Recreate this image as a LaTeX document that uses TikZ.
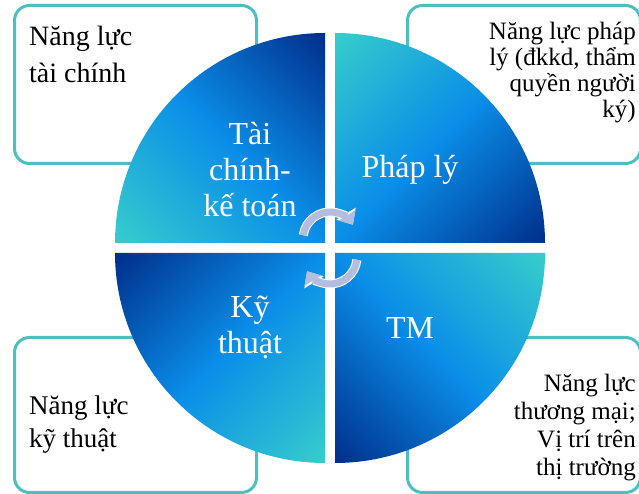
\documentclass[tikz,border=0pt]{standalone}
\usepackage{fontspec}
\setmainfont{Liberation Serif}
\usetikzlibrary{arrows.meta}
\definecolor{khung}{HTML}{4CC0C0}
\definecolor{xanhdam}{HTML}{00308C}
\definecolor{xanhsang}{HTML}{0A8EE8}
\definecolor{xanhngoc}{HTML}{36CCCC}
\definecolor{muiten}{HTML}{B3BDE0}
\pgfdeclareverticalshading{gocphan}{100bp}{color(0bp)=(xanhngoc); color(15bp)=(xanhngoc);
  color(50bp)=(xanhsang); color(85bp)=(xanhdam); color(100bp)=(xanhdam)}
\begin{document}
\begin{tikzpicture}[x=1pt,y=1pt,
  hop/.style={draw=khung,line width=3pt,rounded corners=15pt,fill=white,anchor=north west},
  chu/.style={inner sep=0pt,text=black},
  nhan/.style={inner sep=0pt,text=white,align=center,font=\fontsize{32}{36}\selectfont},
  mau/.style={shading=gocphan}]
\useasboundingbox (0,0) rectangle (639,494);
% cac khung ben ngoai
\node[hop,minimum width=242pt,minimum height=158pt] (hopTC) at (13,490) {};
\node[hop,minimum width=233pt,minimum height=158pt] (hopPL) at (406,490) {};
\node[hop,minimum width=242pt,minimum height=155pt] (hopKT) at (13,158) {};
\node[hop,minimum width=233pt,minimum height=155pt] (hopTM) at (406,158) {};
\node[chu,anchor=north west,align=left,font=\fontsize{28}{37}\selectfont] (nlTC)
  at ([shift={(16,-22)}]hopTC.north west) {Năng lực\\tài chính};
\node[chu,anchor=north east,align=right,font=\fontsize{25}{26}\selectfont] (nlPL)
  at ([shift={(-6,-18)}]hopPL.north east) {Năng lực pháp\\lý (đkkd, thẩm\\quyền người\\ký)};
\node[chu,anchor=north west,align=left,font=\fontsize{27}{33}\selectfont] (nlKT)
  at ([shift={(16,-60)}]hopKT.north west) {Năng lực\\kỹ thuật};
\node[chu,anchor=north east,align=right,font=\fontsize{25}{28}\selectfont] (nlTM)
  at ([shift={(-6,-38)}]hopTM.north east) {Năng lực\\thương mại;\\Vị trí trên\\thị trường};
% bon phan hinh tron
\shade[mau,shading angle=-45] (325,251) -- (115,251) arc[start angle=180,end angle=90,radius=210] -- cycle;
\shade[mau,shading angle=-135] (335,251) -- (335,461) arc[start angle=90,end angle=0,radius=210] -- cycle;
\shade[mau,shading angle=135] (335,241) -- (545,241) arc[start angle=0,end angle=-90,radius=210] -- cycle;
\shade[mau,shading angle=45] (325,241) -- (325,31) arc[start angle=-90,end angle=-180,radius=210] -- cycle;
\node[nhan] (taichinh) at (250,324) {Tài\\chính-\\kế toán};
\node[nhan] (phaply) at (410,324) {Pháp lý};
\node[nhan] (kythuat) at (250,167) {Kỹ\\thuật};
\node[nhan] (thuongmai) at (410,166) {TM};
% mui ten vong
\draw[white,line width=9pt,-{Triangle[width=22pt,length=13pt]}] (330,255) ++(172:27) arc[start angle=172,end angle=32,radius=27];
\draw[muiten,line width=7pt,-{Triangle[width=19pt,length=11pt]}] (330,255) ++(172:27) arc[start angle=172,end angle=32,radius=27];
\draw[white,line width=9pt,-{Triangle[width=22pt,length=13pt]}] (330,237) ++(-6:27) arc[start angle=-6,end angle=-148,radius=27];
\draw[muiten,line width=7pt,-{Triangle[width=19pt,length=11pt]}] (330,237) ++(-6:27) arc[start angle=-6,end angle=-148,radius=27];
\end{tikzpicture}
\end{document}
